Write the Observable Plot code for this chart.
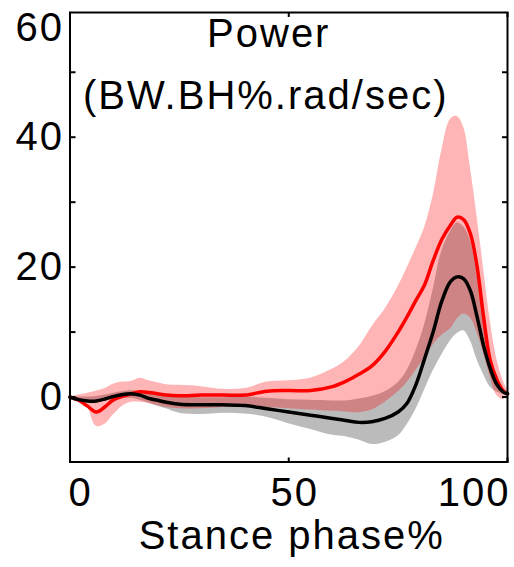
<!DOCTYPE html>
<html>
<head>
<meta charset="utf-8">
<script src="https://cdn.jsdelivr.net/npm/d3@7"></script>
<script src="https://cdn.jsdelivr.net/npm/@observablehq/plot@0.6"></script>
<style>
  body { margin: 0; background: #fff; }
  svg text { letter-spacing: 2px; }
</style>
</head>
<body>
<div id="chart"></div>
<script>
// Stance phase (%) sample points
const stance = [0, 2, 4, 6, 8, 10, 12, 14, 16, 18, 20, 22, 25, 30, 35, 40, 45, 50, 55, 60,
  63, 66, 69, 72, 75, 77, 79, 81, 83, 85, 87, 88.5, 90, 91.5, 93, 94.5, 96, 97.5, 99, 100];

// Red group: mean and ±SD band
const redMean = [0, -0.5, -1.4, -2.3, -1.5, -0.4, 0.1, 0.5, 0.8, 0.7, 0.5, 0.3, 0.2, 0.3, 0.3, 0.3, 0.9, 1.0, 1.0, 1.6,
  2.4, 3.5, 4.8, 7.0, 10.0, 12.3, 14.8, 17.2, 21.0, 24.3, 26.5, 27.7, 27.3, 25.2, 20.3, 12.5, 5.8, 2.8, 1.0, 0.5];
const redUpper = [0, 0.3, 0.6, 0.9, 1.3, 2.0, 2.3, 2.4, 2.9, 2.5, 2.2, 1.9, 1.8, 1.6, 1.2, 1.3, 2.3, 2.5, 2.9, 4.3,
  5.6, 7.7, 10.8, 13.5, 17.0, 19.8, 22.8, 26.0, 31.0, 38.0, 42.8, 43.2, 41.5, 35.4, 28.0, 20.0, 12.0, 6.0, 2.5, 1.0];
const redLower = [0, -0.5, -1.6, -4.5, -4.2, -2.7, -1.4, -0.8, -0.8, -1.0, -1.3, -1.6, -1.8, -1.8, -1.6, -1.6, -1.6, -1.8, -2.0, -2.2,
  -2.3, -2.4, -2.0, -0.8, 0.8, 2.2, 4.0, 6.0, 8.0, 9.5, 10.5, 12.0, 12.8, 12.2, 10.0, 6.8, 3.2, 0.3, -0.4, 0.2];

// Black group: mean and ±SD band
const blackMean = [0, -0.4, -0.6, -0.6, -0.3, 0.1, 0.4, 0.5, 0.3, -0.2, -0.5, -0.8, -1.1, -1.2, -1.2, -1.3, -1.8, -2.3, -2.8, -3.3,
  -3.6, -3.9, -3.8, -3.3, -2.3, -1.0, 1.8, 5.8, 10.0, 14.8, 17.8, 18.5, 18.2, 16.4, 12.5, 8.0, 4.5, 2.0, 0.8, 0.5];
const blackUpper = [0, 0, 0, 0.1, 0.3, 0.6, 0.8, 1.0, 0.8, 0.5, 0.3, 0.1, 0, -0.1, -0.1, 0, -0.2, -0.4, -0.5, -0.6,
  -0.6, -0.3, 0.1, 0.8, 2.2, 4.0, 7.0, 11.0, 16.5, 22.5, 25.5, 26.8, 26.2, 24.1, 19.3, 12.8, 7.0, 3.0, 1.0, 0.5];
const blackLower = [0, -0.6, -0.9, -0.8, -0.6, -0.4, -0.2, -0.2, -0.5, -0.9, -1.4, -1.8, -2.5, -2.7, -2.5, -2.6, -3.1, -4.1, -5.0, -5.9,
  -6.1, -6.6, -7.3, -7.0, -6.0, -4.3, -2.0, 1.0, 4.0, 6.5, 8.7, 9.8, 10.2, 8.7, 5.8, 3.5, 1.6, 0.8, 0.4, 0.3];

// Axis ticks and labels
const xTickValues = [0, 50, 100];
const yTickValues = [-10, 0, 10, 20, 30, 40, 50];
const yLabelValues = [0, 20, 40];
const yTopLabel = ["60"];
const titleLines = ["Power", "(BW.BH%.rad/sec)"];
const xTitle = "Stance phase%";

const rows = stance.map((x, i) => ({
  x, rm: redMean[i], ru: redUpper[i], rl: redLower[i],
  km: blackMean[i], ku: blackUpper[i], kl: blackLower[i]
}));

const curve = "catmull-rom";
const FS = 40;

const chart = Plot.plot({
  width: 514,
  height: 567,
  marginLeft: 69.5,
  marginRight: 7,
  marginTop: 12,
  marginBottom: 105.5,
  x: {domain: [0, 100]},
  y: {domain: [-10, 59.2]},
  style: {fontFamily: "'Liberation Sans', Arial, sans-serif", background: "white", color: "black"},
  marks: [
    Plot.areaY(rows, {x: "x", y1: "kl", y2: "ku", fill: "#bbbbbb", curve}),
    Plot.areaY(rows, {x: "x", y1: "rl", y2: "ru", fill: "#ff0000", fillOpacity: 0.29, curve}),
    Plot.lineY(rows, {x: "x", y: "rm", stroke: "#ff0000", strokeWidth: 3.5, curve}),
    Plot.lineY(rows, {x: "x", y: "km", stroke: "black", strokeWidth: 3.5, curve}),
    Plot.frame({stroke: "black", strokeWidth: 2}),
    // inward ticks
    Plot.axisY(yTickValues, {anchor: "right", frameAnchor: "left", tickSize: 5, tickFormat: () => "", label: null, strokeWidth: 2}),
    Plot.axisY(yTickValues, {anchor: "left", frameAnchor: "right", tickSize: 5, tickFormat: () => "", label: null, strokeWidth: 2}),
    Plot.axisX(xTickValues, {anchor: "top", frameAnchor: "bottom", tickSize: 5, tickFormat: () => "", label: null, strokeWidth: 2}),
    Plot.axisX(xTickValues, {anchor: "bottom", frameAnchor: "top", tickSize: 5, tickFormat: () => "", label: null, strokeWidth: 2}),
    // y tick labels
    Plot.text(yLabelValues, {y: d => d, text: d => String(d), frameAnchor: "left", textAnchor: "end", dx: -6, fontSize: FS}),
    Plot.text(yTopLabel, {text: d => d, frameAnchor: "top-left", textAnchor: "end", lineAnchor: "top", dx: -6, dy: 0, fontSize: FS}),
    // x tick labels
    Plot.text([xTickValues[0]], {x: d => d, text: d => String(d), frameAnchor: "bottom", textAnchor: "start", lineAnchor: "top", dx: -1.5, dy: 15.5, fontSize: FS}),
    Plot.text([xTickValues[1]], {x: d => d, text: d => String(d), frameAnchor: "bottom", textAnchor: "middle", lineAnchor: "top", dx: 6, dy: 15.5, fontSize: FS}),
    Plot.text([xTickValues[2]], {x: d => d, text: d => String(d), frameAnchor: "bottom", textAnchor: "end", lineAnchor: "top", dx: 3, dy: 15.5, fontSize: FS}),
    // x title
    Plot.text([xTitle], {text: d => d, frameAnchor: "bottom", lineAnchor: "top", dx: 3, dy: 58.5, fontSize: FS}),
    // chart title inside frame
    Plot.text([titleLines[0]], {text: d => d, frameAnchor: "top", lineAnchor: "top", dx: -20, dy: 6.5, fontSize: FS}),
    Plot.text([titleLines[1]], {text: d => d, frameAnchor: "top", lineAnchor: "top", dx: -23, dy: 68, fontSize: FS})
  ]
});

document.getElementById("chart").appendChild(chart);
</script>
</body>
</html>
